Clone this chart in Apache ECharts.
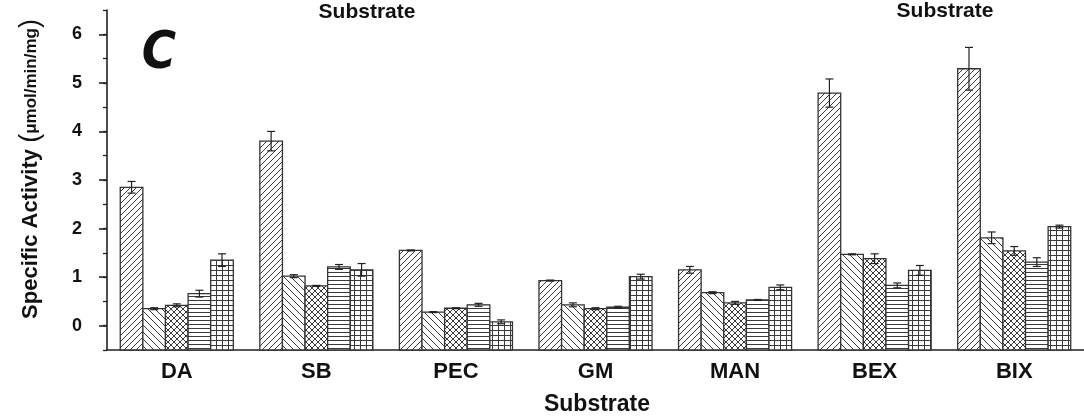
<!DOCTYPE html>
<html>
<head>
<meta charset="utf-8">
<script src="https://cdn.jsdelivr.net/npm/echarts@6/dist/echarts.min.js"></script>
<style>
html,body{margin:0;padding:0;background:#fff;}
#chart{width:1084px;height:416px;}
</style>
</head>
<body>
<div id="chart"></div>
<script>
// ---- data ----
var categories = ['DA', 'SB', 'PEC', 'GM', 'MAN', 'BEX', 'BIX'];
var values1 = [2.85, 3.80, 1.55, 0.93, 1.15, 4.79, 5.29];
var errors1 = [0.12, 0.20, 0.01, 0.01, 0.07, 0.29, 0.44];
var values2 = [0.35, 1.02, 0.28, 0.43, 0.68, 1.47, 1.81];
var errors2 = [0.02, 0.03, 0.01, 0.04, 0.02, 0.01, 0.12];
var values3 = [0.42, 0.82, 0.36, 0.35, 0.47, 1.38, 1.54];
var errors3 = [0.03, 0.01, 0.01, 0.02, 0.03, 0.10, 0.09];
var values4 = [0.66, 1.21, 0.43, 0.38, 0.53, 0.83, 1.31];
var errors4 = [0.07, 0.05, 0.03, 0.02, 0.01, 0.05, 0.09];
var values5 = [1.35, 1.15, 0.08, 1.01, 0.79, 1.14, 2.04];
var errors5 = [0.13, 0.13, 0.04, 0.05, 0.05, 0.10, 0.03];
var yTickLabels = [0, 1, 2, 3, 4, 5, 6];
var yMinorTicks = [-0.5, 0, 0.5, 1, 1.5, 2, 2.5, 3, 3.5, 4, 4.5, 5, 5.5, 6, 6.5];
var Y_MIN = -0.5, Y_MAX = 6.5;

var allValues = [values1, values2, values3, values4, values5];
var allErrors = [errors1, errors2, errors3, errors4, errors5];

// ---- patterns (style only) ----
var LINE = '#3a3a3a';
function tile(w, h, draw) {
  var c = document.createElement('canvas');
  c.width = w; c.height = h;
  var g = c.getContext('2d');
  g.fillStyle = '#fff'; g.fillRect(0, 0, w, h);
  g.strokeStyle = LINE; g.lineWidth = 1;
  draw(g, w, h);
  return { image: c, repeat: 'repeat' };
}
function seg(g, x1, y1, x2, y2) { g.beginPath(); g.moveTo(x1, y1); g.lineTo(x2, y2); g.stroke(); }
var patterns = [
  tile(6, 6, function (g, s) { seg(g, -1, s + 1, s + 1, -1); seg(g, -1, 1, 1, -1); seg(g, s - 1, s + 1, s + 1, s - 1); }),
  tile(7, 7, function (g, s) { seg(g, -1, -1, s + 1, s + 1); seg(g, s - 1, -1, s + 1, 1); seg(g, -1, s - 1, 1, s + 1); }),
  tile(6, 6, function (g, s) {
    seg(g, -1, s + 1, s + 1, -1); seg(g, -1, 1, 1, -1); seg(g, s - 1, s + 1, s + 1, s - 1);
    seg(g, -1, -1, s + 1, s + 1); seg(g, s - 1, -1, s + 1, 1); seg(g, -1, s - 1, 1, s + 1);
  }),
  tile(4, 4, function (g, w, h) { seg(g, 0, 0.5, w, 0.5); }),
  tile(6, 5, function (g, w, h) { seg(g, 0, 0.5, w, 0.5); seg(g, 0.5, 0, 0.5, h); })
];

var GAP = 0.19; // category gap fraction
function makeRender(si) {
  return function (params, api) {
    var c = api.value(0), v = api.value(1), e = api.value(2);
    var band = api.size([1, 0])[0];
    var total = band * (1 - GAP);
    var bw = total / 5;
    var center = api.coord([c, 0])[0];
    var x0 = center - total / 2 + bw * si;
    var yTop = api.coord([c, v])[1];
    var yBase = api.coord([c, Y_MIN])[1];
    var yHi = api.coord([c, v + e])[1];
    var yLo = api.coord([c, v - e])[1];
    var cx = x0 + bw / 2;
    var cap = 4;
    return {
      type: 'group',
      children: [
        { type: 'rect', shape: { x: x0, y: yTop, width: bw, height: yBase - yTop },
          style: { fill: patterns[si], stroke: '#333', lineWidth: 1.3 } },
        { type: 'line', shape: { x1: cx, y1: yHi, x2: cx, y2: yLo }, style: { stroke: '#222', lineWidth: 1.2 } },
        { type: 'line', shape: { x1: cx - cap, y1: yHi, x2: cx + cap, y2: yHi }, style: { stroke: '#222', lineWidth: 1.2 } },
        { type: 'line', shape: { x1: cx - cap, y1: yLo, x2: cx + cap, y2: yLo }, style: { stroke: '#222', lineWidth: 1.2 } }
      ]
    };
  };
}

var series = allValues.map(function (vals, si) {
  return {
    type: 'custom',
    xAxisIndex: 0,
    yAxisIndex: 0,
    renderItem: makeRender(si),
    encode: { x: 0, y: 1 },
    data: vals.map(function (v, ci) { return [ci, v, allErrors[si][ci]]; }),
    z: 5
  };
});

var FONT = '"Liberation Sans", Arial, sans-serif';
var chart = echarts.init(document.getElementById('chart'));
chart.setOption({
  animation: false,
  backgroundColor: '#fff',
  grid: { left: 107, right: -4, top: 10, bottom: 66, containLabel: false },
  xAxis: [
    {
      type: 'category', data: categories, position: 'bottom',
      axisLine: { onZero: false, lineStyle: { color: '#222', width: 1.6 } },
      axisTick: { alignWithLabel: true, length: 7, lineStyle: { color: '#222', width: 1.6 } },
      axisLabel: { color: '#111', fontSize: 22, fontWeight: 'bold', fontFamily: FONT, margin: 11 },
      splitLine: { show: false }
    },
    {
      type: 'category', data: categories, position: 'bottom', offset: 0,
      axisLine: { show: false, onZero: false },
      axisTick: { alignWithLabel: false, length: 4, lineStyle: { color: '#222', width: 1.6 } },
      axisLabel: { show: false },
      splitLine: { show: false }
    }
  ],
  yAxis: [
    {
      type: 'value', min: Y_MIN, max: Y_MAX, interval: 0.5, position: 'left',
      axisLine: { show: true, lineStyle: { color: '#222', width: 1.6 } },
      axisTick: { show: true, length: 4, customValues: yMinorTicks, lineStyle: { color: '#222', width: 1.3 } },
      axisLabel: { show: false },
      splitLine: { show: false }
    },
    {
      type: 'value', min: Y_MIN, max: Y_MAX, interval: 0.5, position: 'left', offset: 0,
      axisLine: { show: false },
      axisTick: { show: true, length: 8, customValues: yTickLabels, lineStyle: { color: '#222', width: 1.6 } },
      axisLabel: { show: true, customValues: yTickLabels, color: '#111', fontSize: 18, fontWeight: 'bold', fontFamily: FONT, margin: 25 },
      splitLine: { show: false }
    }
  ],
  graphic: [
    { type: 'text', x: 31, y: 169, rotation: Math.PI / 2,
      style: {
        text: '{a|Specific Activity }{p|(}{u|\u03bcmol/min/mg}{p|)}',
        textAlign: 'center', textVerticalAlign: 'middle',
        rich: {
          a: { fontSize: 22, fontWeight: 'bold', fontFamily: FONT, fill: '#111' },
          p: { fontSize: 27, fontFamily: FONT, fill: '#111' },
          u: { fontSize: 17, fontWeight: 'bold', fontFamily: FONT, fill: '#111' }
        }
      } },
    { type: 'text', x: 159, y: 54,
      style: { text: 'C', fontSize: 52, fontWeight: 'bold', fontStyle: 'italic',
        fontFamily: '"Liberation Sans Narrow", "DejaVu Sans Condensed", Arial, sans-serif',
        fill: '#111', textAlign: 'center', textVerticalAlign: 'middle' } },
    { type: 'text', x: 597, y: 405,
      style: { text: 'Substrate', fontSize: 23, fontWeight: 'bold', fontFamily: FONT, fill: '#111',
        textAlign: 'center', textVerticalAlign: 'middle' } },
    { type: 'text', x: 367, y: 12,
      style: { text: 'Substrate', fontSize: 21, fontWeight: 'bold', fontFamily: FONT, fill: '#111',
        textAlign: 'center', textVerticalAlign: 'middle' } },
    { type: 'text', x: 945, y: 11,
      style: { text: 'Substrate', fontSize: 21, fontWeight: 'bold', fontFamily: FONT, fill: '#111',
        textAlign: 'center', textVerticalAlign: 'middle' } }
  ],
  series: series
});
</script>
</body>
</html>
